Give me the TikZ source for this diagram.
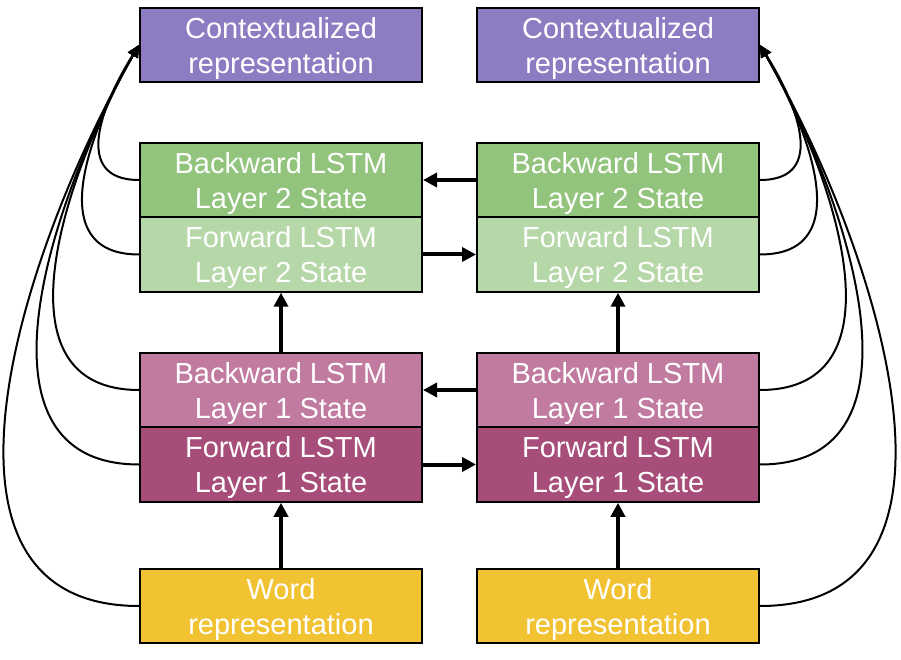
\documentclass[tikz,border=0pt]{standalone}
\usepackage{fontspec}
\setmainfont{Liberation Sans}
\usepackage{tikz}
\usetikzlibrary{arrows.meta}
\newcommand\C{337}
\newcommand\twolines[2]{\begin{tabular}{@{}c@{}}#1\\#2\end{tabular}}

\definecolor{ctx}{HTML}{8E7CC3}
\definecolor{bwdtwo}{HTML}{93C47D}
\definecolor{fwdtwo}{HTML}{B6D7A8}
\definecolor{bwdone}{HTML}{C27BA0}
\definecolor{fwdone}{HTML}{A64D79}
\definecolor{word}{HTML}{F1C232}

\begin{document}
\begin{tikzpicture}[x=1pt,y=1pt,->,>={Triangle[length=12pt,width=11pt]},
                    line width=2pt]

  % text pushed a little below the middle of each box
  \tikzstyle{box}=[rectangle,draw,line width=2pt,text=white,
                   minimum width=282pt,minimum height=74.5pt,inner sep=0pt,
                   text height=45pt,text depth=25pt,
                   font=\fontsize{29}{35}\selectfont]
  \tikzstyle{flow}=[line width=4pt,-{Triangle[length=14pt,width=14pt]}]

  \useasboundingbox (0,0) rectangle (901,659);

  \node[box,fill=ctx]    (CXL) at (281,614)      {\twolines{Contextualized}{representation}};
  \node[box,fill=ctx]    (CXR) at (281+\C,614)   {\twolines{Contextualized}{representation}};
  \node[box,fill=bwdtwo] (B2L) at (281,479)      {\twolines{Backward LSTM}{Layer 2 State}};
  \node[box,fill=bwdtwo] (B2R) at (281+\C,479)   {\twolines{Backward LSTM}{Layer 2 State}};
  \node[box,fill=fwdtwo] (F2L) at (281,404.5)    {\twolines{Forward LSTM}{Layer 2 State}};
  \node[box,fill=fwdtwo] (F2R) at (281+\C,404.5) {\twolines{Forward LSTM}{Layer 2 State}};
  \node[box,fill=bwdone] (B1L) at (281,269)      {\twolines{Backward LSTM}{Layer 1 State}};
  \node[box,fill=bwdone] (B1R) at (281+\C,269)   {\twolines{Backward LSTM}{Layer 1 State}};
  \node[box,fill=fwdone] (F1L) at (281,194.5)    {\twolines{Forward LSTM}{Layer 1 State}};
  \node[box,fill=fwdone] (F1R) at (281+\C,194.5) {\twolines{Forward LSTM}{Layer 1 State}};
  \node[box,fill=word]   (WDL) at (281,53)       {\twolines{Word}{representation}};
  \node[box,fill=word]   (WDR) at (281+\C,53)    {\twolines{Word}{representation}};

  \path[flow]
  (B2R) edge (B2L)
  (F2L) edge (F2R)
  (B1R) edge (B1L)
  (F1L) edge (F1R)
  (B1L) edge (F2L)
  (B1R) edge (F2R)
  (WDL) edge (F1L)
  (WDR) edge (F1R)
  ;

  \path
  (B2L.west) edge [out=180,in=238,looseness=1.3]  (CXL.west)
  (F2L.west) edge [out=180,in=240,looseness=1.2]  (CXL.west)
  (B1L.west) edge [out=180,in=240,looseness=1.1]  (CXL.west)
  (F1L.west) edge [out=180,in=240,looseness=1.08] (CXL.west)
  (WDL.west) edge [out=180,in=240,looseness=1.07] (CXL.west)

  (B2R.east) edge [out=0,in=-58,looseness=1.3]    (CXR.east)
  (F2R.east) edge [out=0,in=-60,looseness=1.2]    (CXR.east)
  (B1R.east) edge [out=0,in=-60,looseness=1.1]    (CXR.east)
  (F1R.east) edge [out=0,in=-60,looseness=1.08]   (CXR.east)
  (WDR.east) edge [out=0,in=-60,looseness=1.07]   (CXR.east)
  ;
\end{tikzpicture}
\end{document}
